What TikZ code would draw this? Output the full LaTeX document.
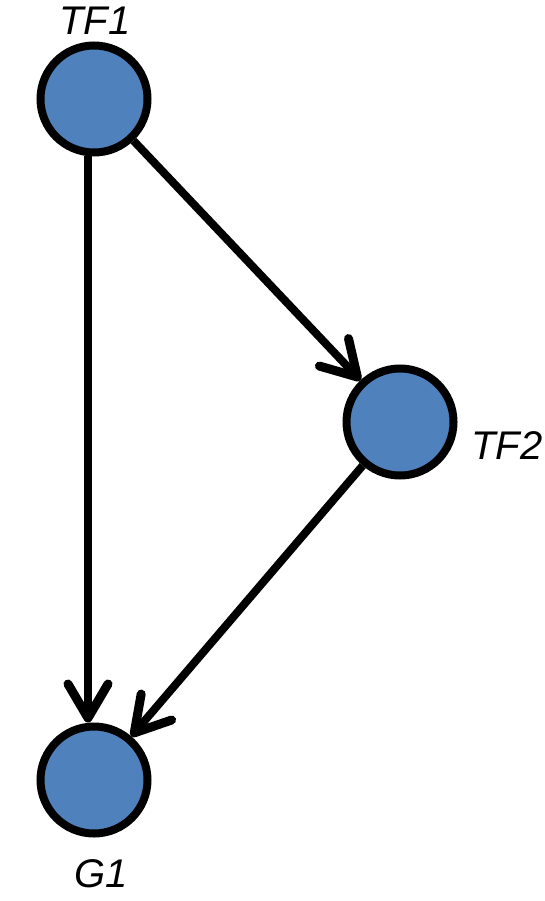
\documentclass[tikz,border=0pt]{standalone}
\usepackage{fontspec}
\setmainfont{Liberation Sans}
\usetikzlibrary{arrows.meta}
\definecolor{nodeblue}{HTML}{4F81BD}
\tikzset{
  gene/.style={circle, draw=black, fill=nodeblue, line width=8pt, minimum size=107pt, inner sep=0pt},
  lbl/.style={inner sep=0pt, font=\fontsize{40}{44}\selectfont\itshape},
  edge/.style={line width=8pt, -{Straight Barb[length=34pt,width=40pt,line width=9pt,round]}}
}
\begin{document}
\begin{tikzpicture}[x=1pt,y=-1pt]
\useasboundingbox (0,0) rectangle (544,901);
\node[gene] (TF1) at (94,99) {};
\node[gene] (TF2) at (400,422) {};
\node[gene] (G1) at (94,780) {};
\node[lbl] (lTF1) at (95,21) {TF1};
\node[lbl] (lTF2) at (507,446) {TF2};
\node[lbl] (lG1) at (101,874) {G1};
\draw[edge] ([xshift=-6pt]TF1.south) -- ([xshift=-6pt]G1.north);
\draw[edge] (TF1) -- (TF2);
\draw[edge] (TF2) -- (G1);
\end{tikzpicture}
\end{document}
